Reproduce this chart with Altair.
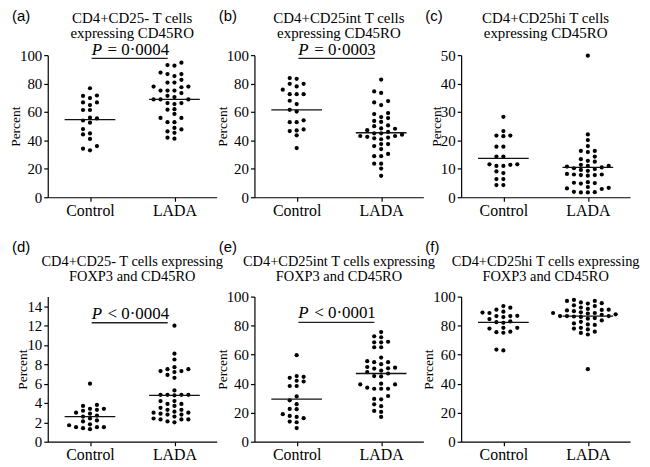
import altair as alt
import pandas as pd

# ---------------- data ----------------
groups = ["Control", "LADA"]
panel_letters = ["(a)", "(b)", "(c)", "(d)", "(e)", "(f)"]
panel_titles = [
    ["CD4+CD25- T cells", "expressing CD45RO"],
    ["CD4+CD25int  T cells", "expressing CD45RO"],
    ["CD4+CD25hi T cells", "expressing CD45RO"],
    ["CD4+CD25- T cells expressing", "FOXP3 and CD45RO"],
    ["CD4+CD25int T cells expressing", "FOXP3 and CD45RO"],
    ["CD4+CD25hi  T cells expressing", "FOXP3 and CD45RO"],
]
p_texts = ["= 0·0004", "= 0·0003", None, "< 0·0004", "< 0·0001", None]
y_max = [100, 100, 50, 15, 100, 100]
y_ticks = [
    [0, 20, 40, 60, 80, 100],
    [0, 20, 40, 60, 80, 100],
    [0, 10, 20, 30, 40, 50],
    [0, 2, 4, 6, 8, 10, 12, 14],
    [0, 20, 40, 60, 80, 100],
    [0, 20, 40, 60, 80, 100],
]

control_a = [76.7, 71.6, 71.3, 69.8, 66.7, 66.7, 64.9, 61.4, 61.4, 56.0, 55.5,
             54.0, 52.5, 48.0, 44.9, 44.2, 41.0, 36.0, 34.2, 33.0]
lada_a = [94.7, 93.0, 92.6, 87.7, 86.7, 86.7, 85.3, 82.6, 80.7, 80.7, 77.9, 77.9,
          77.4, 75.1, 75.1, 75.1, 73.3, 71.4, 70.5, 68.8, 68.8, 68.8, 66.3, 66.3,
          65.6, 62.0, 61.6, 58.6, 55.8, 55.8, 52.8, 52.8, 48.8, 47.7, 46.3, 45.3,
          41.9, 41.2]

control_b = [83.9, 83.3, 79.8, 79.8, 78.0, 75.7, 72.5, 72.5, 72.5, 67.9, 65.6,
             61.5, 60.3, 54.1, 52.8, 52.8, 47.7, 47.0, 46.6, 43.6, 34.6]
lada_b = [82.8, 74.5, 73.4, 67.7, 66.7, 64.9, 59.2, 58.5, 56.4, 55.7, 53.7, 53.0,
          50.5, 50.0, 48.4, 48.2, 47.2, 46.0, 45.0, 45.0, 44.0, 43.1, 43.1, 42.5,
          42.0, 41.5, 40.8, 37.4, 37.4, 36.0, 33.9, 30.5, 28.9, 28.9, 23.6, 23.6,
          20.2, 15.1]

control_c = [28.3, 23.3, 21.7, 21.7, 21.5, 17.8, 17.8, 14.3, 14.3, 11.6, 11.6,
             11.4, 11.0, 11.0, 9.1, 8.5, 6.4, 6.4, 4.3, 4.3]
lada_c = [49.8, 22.1, 20.1, 18.0, 16.3, 16.3, 15.9, 14.3, 13.4, 12.8, 12.5, 11.4,
          11.0, 11.0, 10.8, 10.5, 10.2, 9.9, 9.6, 9.3, 8.2, 8.0, 8.0, 7.8, 7.8,
          7.6, 5.3, 5.1, 5.0, 4.8, 3.6, 3.3, 3.1, 2.9, 1.9, 1.8, 1.7, 1.7]

control_d = [6.0, 3.8, 3.7, 3.4, 3.4, 3.3, 3.2, 3.0, 2.9, 2.7, 2.6, 2.4, 2.2,
             2.1, 1.8, 1.7, 1.5, 1.5, 1.5, 1.4, 1.3]
lada_d = [12.0, 9.1, 8.5, 7.7, 7.5, 7.5, 7.3, 7.3, 7.2, 6.9, 6.6, 5.3, 4.85, 4.85,
          4.85, 4.85, 4.8, 4.2, 4.2, 3.9, 3.9, 3.7, 3.5, 3.3, 3.3, 3.1, 3.0, 3.0,
          2.9, 2.8, 2.8, 2.6, 2.4, 2.3, 2.3, 2.3, 2.1, 2.0]

control_e = [59.6, 45.2, 44.7, 44.0, 42.0, 41.5, 38.4, 38.4, 31.2, 28.5, 25.9,
             22.6, 22.4, 19.0, 17.8, 17.1, 16.2, 13.9, 13.4, 9.4]
lada_e = [75.6, 72.6, 72.0, 68.9, 68.5, 68.5, 65.1, 65.1, 58.0, 55.5, 54.8, 54.8,
          53.4, 51.5, 51.0, 50.6, 50.4, 49.0, 48.0, 47.0, 45.2, 45.0, 40.0, 39.5,
          39.5, 37.2, 36.5, 36.5, 36.5, 31.5, 29.5, 29.2, 25.8, 24.5, 21.2, 20.5,
          17.1]

control_f = [93.5, 92.4, 91.0, 89.6, 89.0, 88.7, 86.8, 86.6, 86.6, 85.9, 84.5,
             82.9, 82.4, 82.0, 78.5, 78.5, 78.0, 75.8, 75.5, 75.1, 63.5, 62.9]
lada_f = [97.7, 97.0, 97.0, 96.0, 95.5, 95.2, 94.0, 93.5, 92.5, 91.5, 91.0, 90.8,
          90.5, 90.0, 89.2, 88.7, 88.7, 88.3, 87.8, 87.5, 86.6, 86.6, 86.6, 86.3,
          86.0, 85.2, 84.8, 83.6, 82.6, 81.5, 80.8, 80.5, 78.5, 78.0, 77.4, 75.8,
          75.0, 73.9, 50.0]

controls = [control_a, control_b, control_c, control_d, control_e, control_f]
ladas = [lada_a, lada_b, lada_c, lada_d, lada_e, lada_f]
medians_control = [54.6, 61.5, 13.7, 2.6, 29.3, 82.3]
medians_lada = [68.8, 45.4, 10.5, 4.78, 47.0, 86.5]

# ---------------- layout / style ----------------
W = 170
H_ROW = [143, 146]
X_DOMAIN = [-0.5, 1.5]
COL_PX = 7.0
DOT_PX = 4.6
SERIF = "Liberation Serif, Times New Roman, DejaVu Serif, serif"
SANS = "Liberation Sans, Arial, DejaVu Sans, sans-serif"

# annotation levels in data units (text baseline, underline)
p_text_level = [100, 100, None, 12.7, 85, None]
p_line_level = [97.7, 97.7, None, 12.3, 82.2, None]
label_y = [-39, -50]
title_y = [(-37, -22), (-35, -20)]
title_size = [15, 14.5]


def swarm_offsets(values, ymax, height):
    order = sorted(range(len(values)), key=lambda k: values[k])
    cands = [0]
    for n in range(1, 15):
        cands += [-n, n]
    placed = []
    cols = [0] * len(values)
    for k in order:
        ypx = values[k] / ymax * height
        for c in cands:
            if all(pc != c or abs(py - ypx) >= DOT_PX for py, pc in placed):
                cols[k] = c
                break
        placed.append((ypx, cols[k]))
    step = W / (X_DOMAIN[1] - X_DOMAIN[0])
    return [c * COL_PX / step for c in cols]


def make_panel(i):
    row = i // 3
    h = H_ROW[row]
    ymax = y_max[i]
    recs = []
    for gi, vals in enumerate([controls[i], ladas[i]]):
        offs = swarm_offsets(vals, ymax, h)
        for v, o in zip(vals, offs):
            recs.append({"group": groups[gi], "pos": gi + o, "value": v})
    pts = pd.DataFrame(recs)

    xs = alt.Scale(domain=X_DOMAIN, nice=False, zero=False)
    ys = alt.Scale(domain=[0, ymax], nice=False)
    x_axis = alt.Axis(values=[0, 1], title=None, grid=False,
                      labelExpr="datum.value == 0 ? 'Control' : 'LADA'",
                      labelFontSize=16, labelPadding=1, labelFont=SERIF)
    y_axis = alt.Axis(values=y_ticks[i], title="Percent", grid=False,
                      labelFontSize=15, labelPadding=2, labelFont=SERIF,
                      titleFontSize=13.5, titlePadding=-3, titleFont=SERIF,
                      titleFontWeight="normal")

    def X(f):
        return alt.X(f, scale=xs, axis=x_axis)

    def Y(f):
        return alt.Y(f, scale=ys, axis=y_axis)

    layers = []
    layers.append(
        alt.Chart(pts).mark_circle(size=18, color="black", opacity=1)
        .encode(x=X("pos:Q"), y=Y("value:Q"))
    )
    med = pd.DataFrame({
        "x1": [0 - 0.3, 1 - 0.3],
        "x2": [0 + 0.3, 1 + 0.3],
        "m": [medians_control[i], medians_lada[i]],
    })
    layers.append(
        alt.Chart(med).mark_rule(color="#111", strokeWidth=1.3)
        .encode(x=X("x1:Q"), x2="x2:Q", y=Y("m:Q"))
    )
    if p_texts[i] is not None:
        pl = pd.DataFrame({"x1": [0.02], "x2": [0.92], "y": [p_line_level[i]]})
        layers.append(
            alt.Chart(pl).mark_rule(color="#222", strokeWidth=1.3)
            .encode(x=X("x1:Q"), x2="x2:Q", y=Y("y:Q"))
        )
        pt = pd.DataFrame({"x": [0.02], "y": [p_text_level[i]], "t": ["P"],
                           "rest": [p_texts[i]]})
        layers.append(
            alt.Chart(pt).mark_text(align="left", baseline="alphabetic", font=SERIF,
                                    fontSize=17, fontStyle="italic", color="black")
            .encode(x=X("x:Q"), y=Y("y:Q"), text="t:N")
        )
        layers.append(
            alt.Chart(pt).mark_text(align="left", baseline="alphabetic", font=SERIF,
                                    fontSize=17, dx=16, color="black")
            .encode(x=X("x:Q"), y=Y("y:Q"), text="rest:N")
        )
    lab = pd.DataFrame({"t": [panel_letters[i]]})
    layers.append(
        alt.Chart(lab).mark_text(align="left", baseline="middle",
                                 font=SANS, fontSize=15, color="black")
        .encode(x=alt.value(-36), y=alt.value(label_y[row]), text="t:N")
    )
    for li in range(2):
        tl = pd.DataFrame({"t": [panel_titles[i][li]]})
        layers.append(
            alt.Chart(tl).mark_text(align="center", baseline="middle", font=SERIF,
                                    fontSize=title_size[row], color="black")
            .encode(x=alt.value(W / 2), y=alt.value(title_y[row][li]), text="t:N")
        )
    return alt.layer(*layers).properties(width=W, height=h)


chart = (
    alt.concat(*[make_panel(i) for i in range(6)], columns=3,
               spacing={"row": 100, "column": 38}, bounds="flush")
    .properties(padding=0)
    .configure(font=SERIF)
    .configure_view(stroke=None)
    .configure_axis(domainColor="black", tickColor="black", labelColor="black",
                    titleColor="black", domainWidth=1.2, tickWidth=1.2, tickSize=4)
)

chart.save("out.html", embed_options={"renderer": "svg", "actions": False})
